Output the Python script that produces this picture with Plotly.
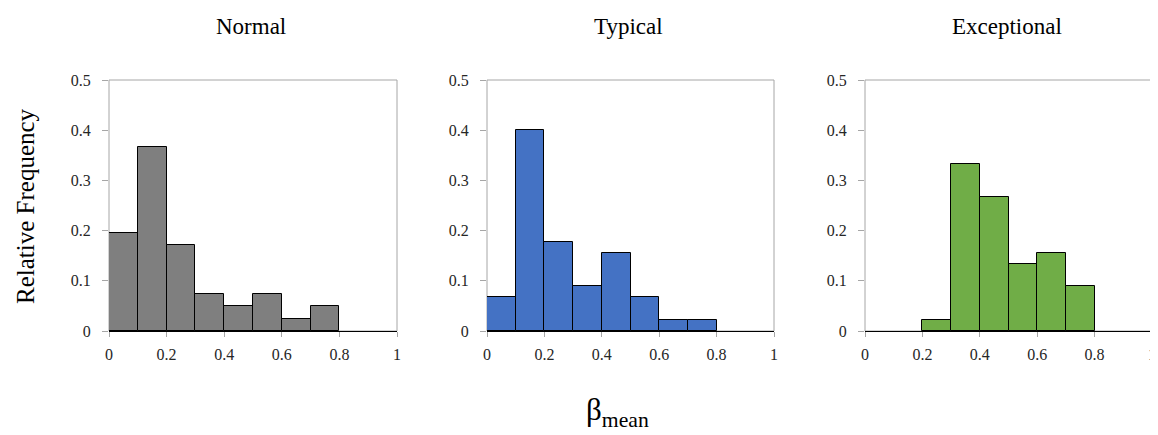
import plotly.graph_objects as go

bin_centers = [0.05, 0.15, 0.25, 0.35, 0.45, 0.55, 0.65, 0.75]
panel_titles = ["Normal", "Typical", "Exceptional"]
normal_vals = [0.195, 0.366, 0.171, 0.073, 0.049, 0.073, 0.024, 0.049]
typical_vals = [0.067, 0.400, 0.178, 0.089, 0.156, 0.067, 0.022, 0.022]
exceptional_vals = [0.0, 0.0, 0.022, 0.333, 0.267, 0.133, 0.156, 0.089]
colors = ["#7f7f7f", "#4472c4", "#70ad47"]
x_ticks = [0, 0.2, 0.4, 0.6, 0.8, 1]
x_ticktext = ["0", "0.2", "0.4", "0.6", "0.8", "1"]
y_ticks = [0, 0.1, 0.2, 0.3, 0.4, 0.5]
y_ticktext = ["0", "0.1", "0.2", "0.3", "0.4", "0.5"]

# page body has an 8px margin; size the figure so it ends at the window edge
OFF = 8
W, H = 1158 - OFF, 435 - OFF
FONT = "Palatino Linotype, Book Antiqua, Palatino, Liberation Serif, serif"


def px_x(p):
    return (p - OFF) / W


def px_y(p):
    return 1 - (p - OFF) / H


x_px = [(109, 397), (487, 774), (865, 1152)]
y_dom = [px_y(331), px_y(80)]

fig = go.Figure()
series = [normal_vals, typical_vals, exceptional_vals]
layout = dict(
    width=W, height=H,
    autosize=False,
    margin=dict(l=0, r=0, t=0, b=0, pad=0),
    paper_bgcolor="white", plot_bgcolor="white",
    showlegend=False,
    font=dict(family=FONT, size=16, color="#262626"),
    bargap=0,
)
shapes = []
annotations = []
for i, (vals, col, title) in enumerate(zip(series, colors, panel_titles)):
    xa = "x" if i == 0 else f"x{i+1}"
    ya = "y" if i == 0 else f"y{i+1}"
    xs = [c for c, v in zip(bin_centers, vals) if v > 0]
    ys = [v for v in vals if v > 0]
    fig.add_trace(go.Bar(
        x=xs, y=ys, width=0.1,
        marker=dict(color=col, line=dict(color="black", width=1)),
        xaxis=xa, yaxis=ya, hoverinfo="skip",
    ))
    dom = [px_x(x_px[i][0]), px_x(x_px[i][1])]
    key = "" if i == 0 else str(i + 1)
    layout["xaxis" + key] = dict(
        domain=dom, range=[0, 1], anchor=ya,
        tickvals=x_ticks, ticktext=x_ticktext,
        showline=True, linecolor="black", linewidth=1,
        ticks="outside", ticklen=5, tickcolor="#a6a6a6",
        ticklabelstandoff=4,
        tickfont=dict(family=FONT, size=16, color="#262626"),
        showgrid=False, zeroline=False, fixedrange=True, automargin=False,
    )
    layout["yaxis" + key] = dict(
        domain=y_dom, range=[0, 0.5], anchor=xa,
        tickvals=y_ticks, ticktext=y_ticktext,
        showline=False,
        ticks="outside", ticklen=6, tickcolor="#a6a6a6",
        ticklabelstandoff=8,
        tickfont=dict(family=FONT, size=16, color="#262626"),
        showgrid=False, zeroline=False, fixedrange=True, automargin=False,
    )
    shapes.append(dict(
        type="rect", xref=f"{xa} domain", yref=f"{ya} domain",
        x0=0, x1=1, y0=0, y1=1, line=dict(color="#a6a6a6", width=1),
        layer="below",
    ))
    annotations.append(dict(
        text=title, x=(dom[0] + dom[1]) / 2 - 2 / W, y=px_y(26),
        xref="paper", yref="paper", showarrow=False,
        xanchor="center", yanchor="middle",
        font=dict(family=FONT, size=23, color="black"),
    ))

annotations.append(dict(
    text="Relative Frequency", x=px_x(25), y=px_y(206),
    xref="paper", yref="paper", showarrow=False, textangle=-90,
    xanchor="center", yanchor="middle",
    font=dict(family=FONT, size=25, color="black"),
))
annotations.append(dict(
    text="β<sub>mean</sub>", x=px_x(617), y=px_y(412),
    xref="paper", yref="paper", showarrow=False,
    xanchor="center", yanchor="middle",
    font=dict(family=FONT, size=31, color="black"),
))
layout["shapes"] = shapes
layout["annotations"] = annotations
fig.update_layout(**layout)
fig.write_html("out.html")
